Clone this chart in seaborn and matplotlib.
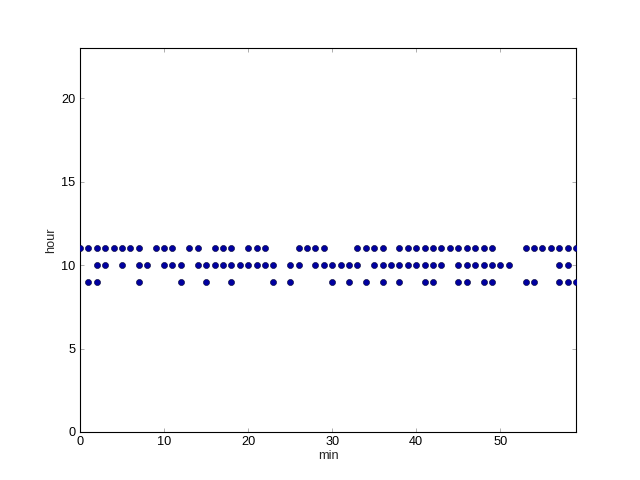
import matplotlib
matplotlib.use("Agg")
import matplotlib.pyplot as plt
import seaborn as sns
import pandas as pd

hour11_min = [0, 1, 2, 3, 4, 5, 6, 7, 9, 10, 11, 13, 14, 16, 17, 18, 20, 21, 22,
              26, 27, 28, 29, 33, 34, 35, 36, 38, 39, 40, 41, 42, 43, 44, 45, 46,
              47, 48, 49, 53, 54, 55, 56, 57, 58, 59]
hour10_min = [2, 3, 5, 7, 8, 10, 11, 12, 14, 15, 16, 17, 18, 19, 20, 21, 22, 23,
              25, 26, 28, 29, 30, 31, 32, 33, 35, 36, 37, 38, 39, 40, 41, 42, 43,
              45, 46, 47, 48, 49, 50, 51, 57, 58]
hour9_min = [1, 2, 7, 12, 15, 18, 23, 25, 30, 32, 34, 36, 38, 41, 42, 45, 46, 48,
             49, 53, 54, 57, 58, 59]

x_ticks = [0, 10, 20, 30, 40, 50]
y_ticks = [0, 5, 10, 15, 20]

rows = []
for h, mins in [(11, hour11_min), (10, hour10_min), (9, hour9_min)]:
    for m in mins:
        rows.append({"min": m, "hour": h})
df = pd.DataFrame(rows)

sns.set_style("white")
plt.rcParams["font.family"] = ["Liberation Sans", "DejaVu Sans"]

fig = plt.figure(figsize=(8, 6), dpi=80)
ax = fig.add_axes([0.125, 0.1, 0.775, 0.8])
sns.scatterplot(data=df, x="min", y="hour", ax=ax, s=30, color="#0000a0",
                edgecolor="#000030", linewidth=0.5, zorder=3)

ax.set_xlim(0, 59)
ax.set_ylim(0, 23)
ax.set_xticks(x_ticks)
ax.set_yticks(y_ticks)
ax.tick_params(direction="in", length=4, width=0.6, colors="#888888",
               labelcolor="black", labelsize=11.5, top=True, right=True,
               bottom=True, left=True, pad=4)
for sp in ax.spines.values():
    sp.set_color("black")
    sp.set_linewidth(1.0)
    sp.set_visible(True)
ax.set_xlabel("min", fontsize=11.5, labelpad=1)
ax.set_ylabel("hour", fontsize=11.5, labelpad=4)

fig.savefig("out.png", dpi=80, facecolor="white")
